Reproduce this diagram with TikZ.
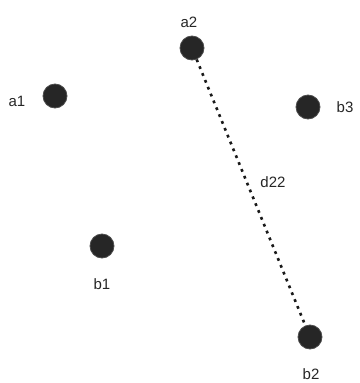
\documentclass[tikz,border=0pt]{standalone}
\usepackage{fontspec}
\setmainfont{Liberation Sans}
\begin{document}
\begin{tikzpicture}[x=1pt,y=-1pt,
  pointdot/.style={circle, fill=black!85, draw=black!70, line width=0.8pt, minimum size=24pt, inner sep=0pt},
  lbl/.style={font=\fontsize{15}{17}\selectfont, text=black!85, inner sep=0pt},
  distline/.style={line width=2.6pt, black!90, dash pattern=on 2.8pt off 4.6pt}]
  \useasboundingbox (0,0) rectangle (359,383);
  % points
  \node[pointdot] (a1) at (55,96) {};
  \node[pointdot] (a2) at (192,48) {};
  \node[pointdot] (b3) at (308,107) {};
  \node[pointdot] (b1) at (102,246) {};
  \node[pointdot] (b2) at (310,337) {};
  % labels
  \node[lbl] (la1) at (17,101) {a1};
  \node[lbl] (la2) at (189,22) {a2};
  \node[lbl] (lb3) at (345,107) {b3};
  \node[lbl] (lb1) at (102,284) {b1};
  \node[lbl] (lb2) at (311,374) {b2};
  % distance between a2 and b2
  \draw[distline] (a2) -- (b2);
  \node[lbl] (ld) at (273,182) {d22};
\end{tikzpicture}
\end{document}
